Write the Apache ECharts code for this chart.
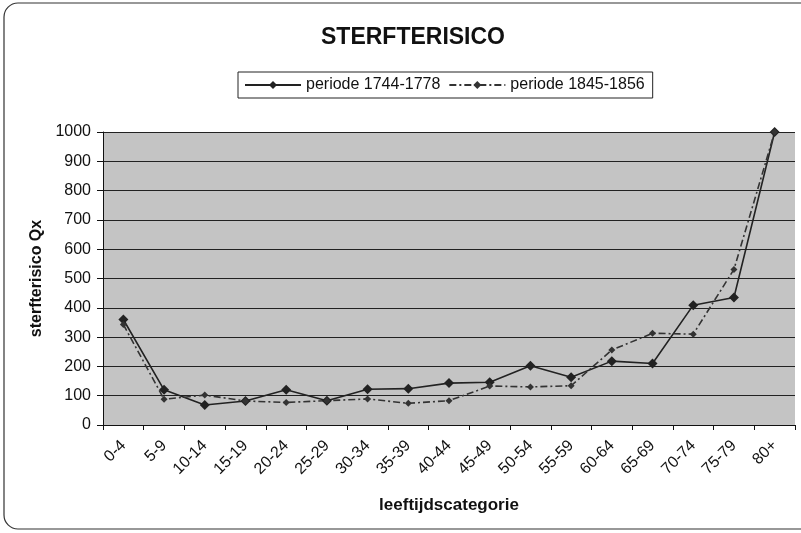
<!DOCTYPE html>
<html>
<head>
<meta charset="utf-8">
<script src="https://cdn.jsdelivr.net/npm/echarts@6/dist/echarts.min.js"></script>
<style>
  html, body { margin: 0; padding: 0; background: #fff; }
  #main { width: 801px; height: 533px; }
</style>
</head>
<body>
<div id="main"></div>
<script>
  let categories = ['0-4', '5-9', '10-14', '15-19', '20-24', '25-29', '30-34', '35-39', '40-44',
                    '45-49', '50-54', '55-59', '60-64', '65-69', '70-74', '75-79', '80+'];
  let periode1 = [360, 120, 68, 82, 120, 83, 122, 124, 143, 146, 202, 163, 218, 210, 409, 435, 1000];
  let periode2 = [343, 88, 102, 82, 77, 83, 89, 74, 83, 133, 130, 134, 256, 313, 310, 531, 1000];
  let seriesNames = ['periode 1744-1778', 'periode 1845-1856'];

  let font = 'Arial, "Liberation Sans", sans-serif';
  let myChart = echarts.init(document.getElementById('main'));

  let option = {
    backgroundColor: '#fff',
    animation: false,
    title: {
      text: 'STERFTERISICO',
      left: 408,
      top: 21,
      textAlign: 'center',
      textStyle: { fontFamily: font, fontSize: 23, fontWeight: 'bold', color: '#111' }
    },
    legend: {
      data: seriesNames,
      left: 238,
      top: 72,
      padding: [5, 8, 5, 6],
      borderColor: '#222',
      borderWidth: 1,
      itemWidth: 56,
      itemHeight: 10,
      itemGap: 8,
      textStyle: { fontFamily: font, fontSize: 16, color: '#111' }
    },
    graphic: [{
      type: 'rect',
      shape: { x: 4, y: 3, width: 820, height: 526, r: 14 },
      style: { fill: 'none', stroke: '#333', lineWidth: 1.2 },
      silent: true
    }],
    grid: {
      left: 103,
      right: 6,
      top: 132,
      bottom: 108,
      show: true,
      backgroundColor: '#c4c4c4',
      borderWidth: 0
    },
    xAxis: {
      type: 'category',
      data: categories,
      boundaryGap: true,
      name: 'leeftijdscategorie',
      nameLocation: 'middle',
      nameGap: 72,
      nameTextStyle: { fontFamily: font, fontSize: 17, fontWeight: 'bold', color: '#111' },
      axisLine: { lineStyle: { color: '#111', width: 1 } },
      axisTick: { show: true, length: 5, inside: false, lineStyle: { color: '#111' } },
      axisLabel: { rotate: 45, fontFamily: font, fontSize: 16, color: '#111', margin: 18, interval: 0 }
    },
    yAxis: {
      type: 'value',
      min: 0,
      max: 1000,
      interval: 100,
      name: 'sterfterisico Qx',
      nameLocation: 'middle',
      nameGap: 58,
      nameTextStyle: { fontFamily: font, fontSize: 16, fontWeight: 'bold', color: '#111' },
      axisLine: { show: true, lineStyle: { color: '#111', width: 1 } },
      axisTick: { show: true, length: 6, lineStyle: { color: '#111' } },
      axisLabel: {
        fontFamily: font, fontSize: 16, color: '#111', margin: 12,
        formatter: function (v) { return String(v); }
      },
      splitLine: { show: true, lineStyle: { color: '#222', width: 1 } }
    },
    series: [
      {
        name: seriesNames[0],
        type: 'line',
        data: periode1,
        symbol: 'diamond',
        symbolSize: 10,
        itemStyle: { color: '#222' },
        lineStyle: { color: '#222', width: 1.6 }
      },
      {
        name: seriesNames[1],
        type: 'line',
        data: periode2,
        symbol: 'diamond',
        symbolSize: 7,
        itemStyle: { color: '#333' },
        lineStyle: { color: '#333', width: 1.6, type: [7, 3, 2, 3] }
      }
    ]
  };
  myChart.setOption(option);
</script>
</body>
</html>
